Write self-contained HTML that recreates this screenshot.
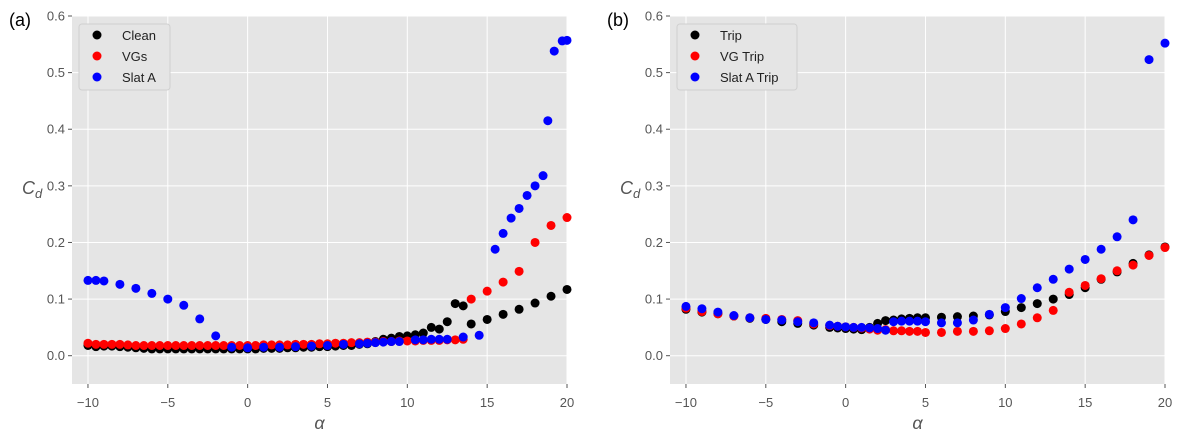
<!DOCTYPE html>
<html><head><meta charset="utf-8"><style>
body{margin:0;background:#fff;font-family:"Liberation Sans","DejaVu Sans",sans-serif;}
svg{display:block}
</style></head><body>
<svg id="s" width="1184" height="439" xmlns="http://www.w3.org/2000/svg"></svg>
<script>
const xTicks=[-10,-5,0,5,10,15,20];
const yTicks=[0.0,0.1,0.2,0.3,0.4,0.5,0.6];
const cleanA=[-10,-9.5,-9,-8.5,-8,-7.5,-7,-6.5,-6,-5.5,-5,-4.5,-4,-3.5,-3,-2.5,-2,-1.5,-1,-0.5,0,0.5,1,1.5,2,2.5,3,3.5,4,4.5,5,5.5,6,6.5,7,7.5,8,8.5,9,9.5,10,10.5,11,11.5,12,12.5,13,13.5,14,15,16,17,18,19,20];
const cleanC=[0.018,0.016,0.017,0.017,0.016,0.015,0.014,0.013,0.012,0.012,0.012,0.012,0.012,0.012,0.012,0.012,0.012,0.012,0.012,0.012,0.012,0.012,0.013,0.013,0.013,0.014,0.014,0.015,0.015,0.016,0.016,0.017,0.018,0.018,0.02,0.021,0.025,0.029,0.031,0.034,0.035,0.037,0.04,0.05,0.047,0.06,0.092,0.088,0.056,0.064,0.073,0.082,0.093,0.105,0.117];
const vgA=[-10,-9.5,-9,-8.5,-8,-7.5,-7,-6.5,-6,-5.5,-5,-4.5,-4,-3.5,-3,-2.5,-2,-1.5,-1,-0.5,0,0.5,1,1.5,2,2.5,3,3.5,4,4.5,5,5.5,6,6.5,7,7.5,8,8.5,9,9.5,10,10.5,11,11.5,12,12.5,13,13.5,14,15,16,17,18,19,20];
const vgC=[0.022,0.02,0.02,0.02,0.02,0.019,0.018,0.018,0.018,0.018,0.018,0.018,0.018,0.018,0.018,0.018,0.018,0.018,0.018,0.018,0.018,0.018,0.019,0.019,0.019,0.019,0.02,0.02,0.02,0.021,0.021,0.022,0.022,0.023,0.023,0.024,0.024,0.025,0.025,0.026,0.026,0.026,0.027,0.027,0.027,0.028,0.028,0.029,0.1,0.114,0.13,0.149,0.2,0.23,0.244];
const slatA=[-10,-9.5,-9,-8,-7,-6,-5,-4,-3,-2,-1,0,1,2,3,4,5,6,7,7.5,8,8.5,9,9.5,10.5,11,11.5,12,12.5,13.5,14.5,15.5,16,16.5,17,17.5,18,18.5,18.8,19.2,19.7,20];
const slatC=[0.133,0.133,0.132,0.126,0.119,0.11,0.1,0.089,0.065,0.035,0.015,0.014,0.015,0.015,0.016,0.017,0.018,0.02,0.021,0.022,0.023,0.024,0.025,0.025,0.028,0.028,0.029,0.029,0.029,0.033,0.036,0.188,0.216,0.243,0.26,0.283,0.3,0.318,0.415,0.538,0.556,0.557];
const tripA=[-10,-9,-8,-7,-6,-5,-4,-3,-2,-1,-0.5,0,0.5,1,1.5,2,2.5,3,3.5,4,4.5,5,6,7,8,9,10,11,12,13,14,15,16,17,18,19,20];
const tripC=[0.082,0.077,0.074,0.07,0.066,0.064,0.06,0.057,0.054,0.05,0.049,0.048,0.047,0.046,0.05,0.057,0.062,0.063,0.065,0.066,0.067,0.067,0.068,0.069,0.07,0.072,0.078,0.085,0.092,0.1,0.108,0.12,0.135,0.148,0.163,0.178,0.192];
const vgTripA=[-10,-9,-8,-7,-6,-5,-4,-3,-2,-1,-0.5,0,0.5,1,1.5,2,2.5,3,3.5,4,4.5,5,6,7,8,9,10,11,12,13,14,15,16,17,18,19,20];
const vgTripC=[0.084,0.078,0.074,0.07,0.067,0.066,0.064,0.062,0.056,0.053,0.052,0.051,0.05,0.049,0.047,0.045,0.046,0.044,0.044,0.043,0.043,0.041,0.041,0.043,0.043,0.044,0.048,0.056,0.067,0.08,0.112,0.124,0.136,0.15,0.16,0.177,0.191];
const slatTripA=[-10,-9,-8,-7,-6,-5,-4,-3,-2,-1,-0.5,0,0.5,1,1.5,2,2.5,3,3.5,4,4.5,5,6,7,8,9,10,11,12,13,14,15,16,17,18,19,20];
const slatTripC=[0.087,0.083,0.077,0.071,0.067,0.064,0.063,0.06,0.058,0.054,0.052,0.051,0.05,0.05,0.049,0.048,0.045,0.06,0.061,0.061,0.061,0.06,0.058,0.058,0.063,0.073,0.085,0.101,0.12,0.135,0.153,0.17,0.188,0.21,0.24,0.523,0.552];

const NS="http://www.w3.org/2000/svg";
const svg=document.getElementById('s');
function mk(t,a,p){const e=document.createElementNS(NS,t);for(const k in a)e.setAttribute(k,a[k]);(p||svg).appendChild(e);return e;}
const Y0=16,Y1=384,xmin=-11,xmax=20,ymin=-0.05,ymax=0.6;
function panel(L,R,label,series,names){
  const g=mk('g',{});
  
  
  const sx=v=>L+(v-xmin)/(xmax-xmin)*(R-L);
  const sy=v=>Y1-(v-ymin)/(ymax-ymin)*(Y1-Y0);
  const bg=mk('rect',{x:L,y:Y0,width:R-L,height:Y1-Y0,fill:'#e5e5e5'},g);
  
  
  xTicks.forEach(t=>{const x=sx(t);
    mk('line',{x1:x,x2:x,y1:Y0,y2:Y1,stroke:'#fff','stroke-width':1},g);
    mk('line',{x1:x,x2:x,y1:Y1,y2:Y1+4,stroke:'#555'},g);
    const tx=mk('text',{x:x,y:Y1+23,'text-anchor':'middle','font-size':13,fill:'#555'},g);
    tx.textContent=(t<0?'\u2212'+(-t):t);
    
    });
  yTicks.forEach(t=>{const y=sy(t);
    mk('line',{x1:L,x2:R,y1:y,y2:y,stroke:'#fff','stroke-width':1},g);
    mk('line',{x1:L-4,x2:L,y1:y,y2:y,stroke:'#555'},g);
    const tx=mk('text',{x:L-7,y:y+4.5,'text-anchor':'end','font-size':13,fill:'#555'},g);
    tx.textContent=t.toFixed(1);
    
    });
  series.forEach(s=>{s.a.forEach((a,i)=>{
    const c=mk('circle',{cx:sx(a),cy:sy(s.c[i]),r:4.5,fill:s.col},g);
    
    });});
  const xl=mk('text',{x:(L+R)/2,y:429,'text-anchor':'middle','font-size':18,fill:'#555','font-style':'italic'},g);
  xl.textContent='α';
  
  
  const yl=mk('text',{x:L-50,y:194,'font-size':18,fill:'#555','font-style':'italic'},g);
  yl.innerHTML='C<tspan font-size="13" dy="4">d</tspan>';
  
  
  const pl=mk('text',{x:L-63,y:26,'font-size':18,fill:'#000'},g);
  pl.textContent='('+label+')';
  
  
  const lg=mk('g',{},g);
  
  
  const w=label==='b'?120:91;
  mk('rect',{x:L+7,y:24,width:w,height:66,rx:3,fill:'#e5e5e5',stroke:'#d0d0d0'},lg);
  series.forEach((s,i)=>{
    const y=35+i*21;
    mk('circle',{cx:L+25,cy:y,r:4.5,fill:s.col},lg);
    const t=mk('text',{x:L+50,y:y+5,'font-size':13,fill:'#222'},lg);
    t.textContent=names[i];
    
    });
}
panel(72,567,'a',[{a:cleanA,c:cleanC,col:'#000',n:'clean'},{a:vgA,c:vgC,col:'#ff0000',n:'vgs'},{a:slatA,c:slatC,col:'#0000ff',n:'slat-a'}],['Clean','VGs','Slat A']);
panel(670,1165,'b',[{a:tripA,c:tripC,col:'#000',n:'trip'},{a:vgTripA,c:vgTripC,col:'#ff0000',n:'vg-trip'},{a:slatTripA,c:slatTripC,col:'#0000ff',n:'slat-a-trip'}],['Trip','VG Trip','Slat A Trip']);
</script>
</body></html>
